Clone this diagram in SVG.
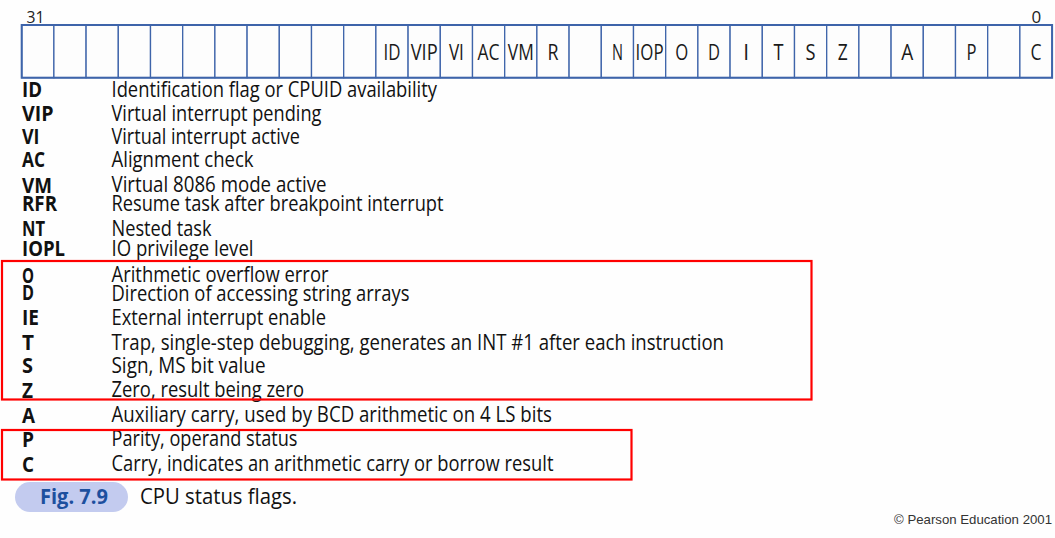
<svg xmlns="http://www.w3.org/2000/svg" width="1055" height="538" viewBox="0 0 1055 538">
<style>
.bg{fill:#fefefe}
.cell{fill:#fdfdfd;stroke:#3e64aa;stroke-width:1.3}
.outer{fill:none;stroke:#3e64aa;stroke-width:2}
.bit{font-family:"Open Sans","Noto Sans",sans-serif;font-size:17px;fill:#222}
.cl{font-family:"Open Sans","Noto Sans",sans-serif;font-size:21px;fill:#1a1a1a;text-anchor:middle}
.lab{font-family:"Open Sans","Noto Sans",sans-serif;font-size:22px;font-weight:bold;fill:#111}
.desc{font-family:"Open Sans","Noto Sans",sans-serif;font-size:22px;fill:#111}
.hl{fill:none;stroke:#ff0000;stroke-width:2.2}
.pill{fill:#c3cbef}
.fig{font-family:"Open Sans","Noto Sans",sans-serif;font-size:21px;font-weight:bold;fill:#1d4f9e}
.cap{font-family:"Open Sans","Noto Sans",sans-serif;font-size:22px;fill:#111}
.copy{font-family:"Liberation Sans",Arial,sans-serif;font-size:13px;fill:#333}
</style>
<rect class="bg" x="0" y="0" width="1055" height="538"/>

<g id="register">
  <text class="bit" x="26.5" y="23" textLength="18" lengthAdjust="spacingAndGlyphs">31</text>
  <text class="bit" x="1031.5" y="23">0</text>
  <g id="cells">
    <rect class="cell" x="21.7" y="25" width="32.2" height="52.7"/>
    <rect class="cell" x="53.9" y="25" width="32.2" height="52.7"/>
    <rect class="cell" x="86.1" y="25" width="32.2" height="52.7"/>
    <rect class="cell" x="118.3" y="25" width="32.2" height="52.7"/>
    <rect class="cell" x="150.5" y="25" width="32.2" height="52.7"/>
    <rect class="cell" x="182.7" y="25" width="32.2" height="52.7"/>
    <rect class="cell" x="214.9" y="25" width="32.2" height="52.7"/>
    <rect class="cell" x="247.1" y="25" width="32.2" height="52.7"/>
    <rect class="cell" x="279.3" y="25" width="32.2" height="52.7"/>
    <rect class="cell" x="311.5" y="25" width="32.2" height="52.7"/>
    <rect class="cell" x="343.7" y="25" width="32.2" height="52.7"/>
    <rect class="cell" x="375.9" y="25" width="32.2" height="52.7"/>
    <rect class="cell" x="408.1" y="25" width="32.2" height="52.7"/>
    <rect class="cell" x="440.3" y="25" width="32.2" height="52.7"/>
    <rect class="cell" x="472.5" y="25" width="32.2" height="52.7"/>
    <rect class="cell" x="504.7" y="25" width="32.2" height="52.7"/>
    <rect class="cell" x="536.9" y="25" width="32.2" height="52.7"/>
    <rect class="cell" x="569.1" y="25" width="32.2" height="52.7"/>
    <rect class="cell" x="601.3" y="25" width="32.2" height="52.7"/>
    <rect class="cell" x="633.5" y="25" width="32.2" height="52.7"/>
    <rect class="cell" x="665.7" y="25" width="32.2" height="52.7"/>
    <rect class="cell" x="697.9" y="25" width="32.2" height="52.7"/>
    <rect class="cell" x="730.1" y="25" width="32.2" height="52.7"/>
    <rect class="cell" x="762.3" y="25" width="32.2" height="52.7"/>
    <rect class="cell" x="794.5" y="25" width="32.2" height="52.7"/>
    <rect class="cell" x="826.7" y="25" width="32.2" height="52.7"/>
    <rect class="cell" x="858.9" y="25" width="32.2" height="52.7"/>
    <rect class="cell" x="891.1" y="25" width="32.2" height="52.7"/>
    <rect class="cell" x="923.3" y="25" width="32.2" height="52.7"/>
    <rect class="cell" x="955.5" y="25" width="32.2" height="52.7"/>
    <rect class="cell" x="987.7" y="25" width="32.2" height="52.7"/>
    <rect class="cell" x="1019.9" y="25" width="32.2" height="52.7"/>
    <rect class="outer" x="21.7" y="25" width="1030.4" height="52.7"/>
  </g>
  <g id="cell-labels">
    <text class="cl" x="392" y="60" textLength="17" lengthAdjust="spacingAndGlyphs">ID</text>
    <text class="cl" x="424.2" y="60" textLength="27" lengthAdjust="spacingAndGlyphs">VIP</text>
    <text class="cl" x="456.4" y="60" textLength="15" lengthAdjust="spacingAndGlyphs">VI</text>
    <text class="cl" x="488.6" y="60" textLength="22" lengthAdjust="spacingAndGlyphs">AC</text>
    <text class="cl" x="520.8" y="60" textLength="26" lengthAdjust="spacingAndGlyphs">VM</text>
    <text class="cl" x="553" y="60" textLength="11" lengthAdjust="spacingAndGlyphs">R</text>
    <text class="cl" x="617.4" y="60" textLength="11" lengthAdjust="spacingAndGlyphs">N</text>
    <text class="cl" x="649.6" y="60" textLength="28" lengthAdjust="spacingAndGlyphs">IOP</text>
    <text class="cl" x="681.8" y="60" textLength="13" lengthAdjust="spacingAndGlyphs">O</text>
    <text class="cl" x="714" y="60" textLength="12" lengthAdjust="spacingAndGlyphs">D</text>
    <text class="cl" x="746.2" y="60">I</text>
    <text class="cl" x="778.4" y="60" textLength="10" lengthAdjust="spacingAndGlyphs">T</text>
    <text class="cl" x="810.6" y="60" textLength="10" lengthAdjust="spacingAndGlyphs">S</text>
    <text class="cl" x="842.8" y="60" textLength="10" lengthAdjust="spacingAndGlyphs">Z</text>
    <text class="cl" x="907.2" y="60" textLength="12" lengthAdjust="spacingAndGlyphs">A</text>
    <text class="cl" x="971.6" y="60" textLength="10" lengthAdjust="spacingAndGlyphs">P</text>
    <text class="cl" x="1036" y="60" textLength="11" lengthAdjust="spacingAndGlyphs">C</text>
  </g>
</g>

<g id="legend">
  <g id="row-ID"><text class="lab" x="22" y="97" textLength="20" lengthAdjust="spacingAndGlyphs">ID</text><text class="desc" x="111.5" y="97" textLength="325.5" lengthAdjust="spacingAndGlyphs">Identification flag or CPUID availability</text></g>
  <g id="row-VIP"><text class="lab" x="22" y="121" textLength="31.5" lengthAdjust="spacingAndGlyphs">VIP</text><text class="desc" x="111.5" y="121" textLength="210" lengthAdjust="spacingAndGlyphs">Virtual interrupt pending</text></g>
  <g id="row-VI"><text class="lab" x="22" y="144" textLength="17.5" lengthAdjust="spacingAndGlyphs">VI</text><text class="desc" x="111.5" y="144" textLength="188.5" lengthAdjust="spacingAndGlyphs">Virtual interrupt active</text></g>
  <g id="row-AC"><text class="lab" x="22" y="167" textLength="23" lengthAdjust="spacingAndGlyphs">AC</text><text class="desc" x="111.5" y="167" textLength="142" lengthAdjust="spacingAndGlyphs">Alignment check</text></g>
  <g id="row-VM"><text class="lab" x="22" y="193" textLength="30" lengthAdjust="spacingAndGlyphs">VM</text><text class="desc" x="111.5" y="192" textLength="215" lengthAdjust="spacingAndGlyphs">Virtual 8086 mode active</text></g>
  <g id="row-RFR"><text class="lab" x="22" y="211" textLength="35" lengthAdjust="spacingAndGlyphs">RFR</text><text class="desc" x="111.5" y="211" textLength="332" lengthAdjust="spacingAndGlyphs">Resume task after breakpoint interrupt</text></g>
  <g id="row-NT"><text class="lab" x="22" y="236" textLength="23" lengthAdjust="spacingAndGlyphs">NT</text><text class="desc" x="111.5" y="236" textLength="100" lengthAdjust="spacingAndGlyphs">Nested task</text></g>
  <g id="row-IOPL"><text class="lab" x="22" y="256" textLength="43" lengthAdjust="spacingAndGlyphs">IOPL</text><text class="desc" x="111.5" y="256" textLength="142" lengthAdjust="spacingAndGlyphs">IO privilege level</text></g>
  <g id="row-O"><text class="lab" x="22" y="283" textLength="12" lengthAdjust="spacingAndGlyphs">O</text><text class="desc" x="111.5" y="282" textLength="217" lengthAdjust="spacingAndGlyphs">Arithmetic overflow error</text></g>
  <g id="row-D"><text class="lab" x="22" y="300" textLength="12" lengthAdjust="spacingAndGlyphs">D</text><text class="desc" x="111.5" y="301" textLength="298" lengthAdjust="spacingAndGlyphs">Direction of accessing string arrays</text></g>
  <g id="row-IE"><text class="lab" x="22" y="325" textLength="17" lengthAdjust="spacingAndGlyphs">IE</text><text class="desc" x="111.5" y="325" textLength="214.5" lengthAdjust="spacingAndGlyphs">External interrupt enable</text></g>
  <g id="row-T"><text class="lab" x="22" y="350" textLength="12" lengthAdjust="spacingAndGlyphs">T</text><text class="desc" x="111.5" y="350" textLength="612.5" lengthAdjust="spacingAndGlyphs">Trap, single-step debugging, generates an INT #1 after each instruction</text></g>
  <g id="row-S"><text class="lab" x="22" y="373" textLength="11" lengthAdjust="spacingAndGlyphs">S</text><text class="desc" x="111.5" y="373" textLength="154" lengthAdjust="spacingAndGlyphs">Sign, MS bit value</text></g>
  <g id="row-Z"><text class="lab" x="22" y="398" textLength="11" lengthAdjust="spacingAndGlyphs">Z</text><text class="desc" x="111.5" y="397" textLength="192.5" lengthAdjust="spacingAndGlyphs">Zero, result being zero</text></g>
  <g id="row-A"><text class="lab" x="22" y="423" textLength="13" lengthAdjust="spacingAndGlyphs">A</text><text class="desc" x="111.5" y="422" textLength="440.5" lengthAdjust="spacingAndGlyphs">Auxiliary carry, used by BCD arithmetic on 4 LS bits</text></g>
  <g id="row-P"><text class="lab" x="22" y="447" textLength="12" lengthAdjust="spacingAndGlyphs">P</text><text class="desc" x="111.5" y="446" textLength="186" lengthAdjust="spacingAndGlyphs">Parity, operand status</text></g>
  <g id="row-C"><text class="lab" x="22" y="472" textLength="12" lengthAdjust="spacingAndGlyphs">C</text><text class="desc" x="111.5" y="471" textLength="442" lengthAdjust="spacingAndGlyphs">Carry, indicates an arithmetic carry or borrow result</text></g>
</g>

<g id="highlights">
  <rect class="hl" x="2" y="261" width="809.5" height="138.5"/>
  <rect class="hl" x="2" y="430" width="629.5" height="49.5"/>
</g>

<g id="caption">
  <rect class="pill" x="15" y="482" width="113" height="30" rx="15" ry="15"/>
  <text class="fig" x="40" y="504" textLength="68" lengthAdjust="spacingAndGlyphs">Fig. 7.9</text>
  <text class="cap" x="140" y="504" textLength="157" lengthAdjust="spacingAndGlyphs">CPU status flags.</text>
</g>

<text class="copy" x="894" y="524" textLength="158" lengthAdjust="spacingAndGlyphs">© Pearson Education 2001</text>
</svg>
